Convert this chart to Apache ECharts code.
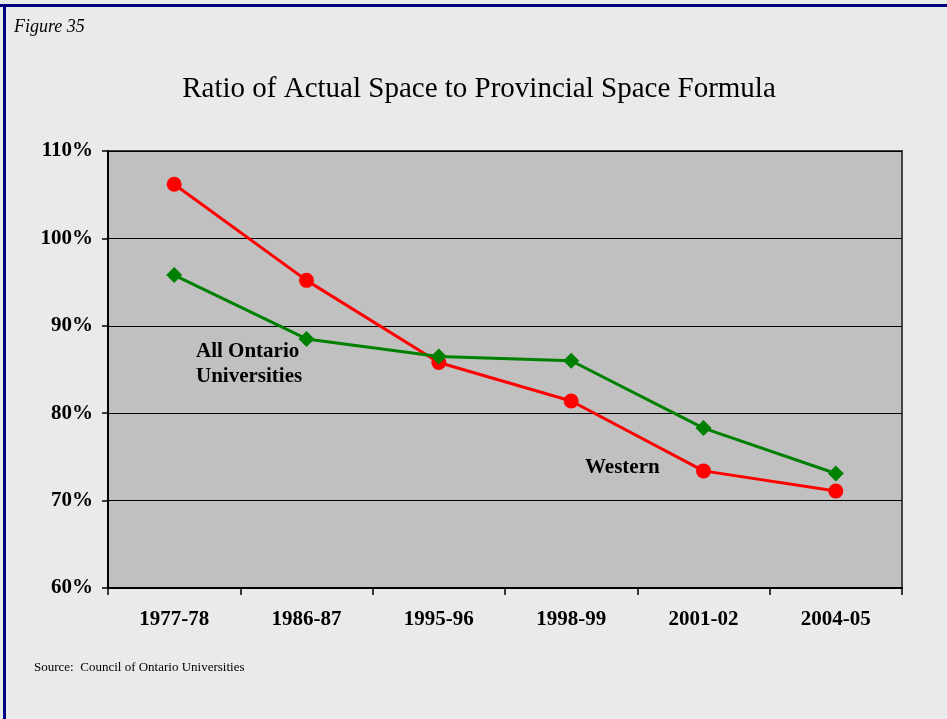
<!DOCTYPE html>
<html>
<head>
<meta charset="utf-8">
<script src="https://cdn.jsdelivr.net/npm/echarts@6/dist/echarts.min.js"></script>
<style>
  html, body { margin: 0; padding: 0; background: #eaeaea; }
  #chart { width: 947px; height: 719px; }
</style>
</head>
<body>
<div id="chart"></div>
<script>
// Academic years on the horizontal axis
const years = ['1977-78', '1986-87', '1995-96', '1998-99', '2001-02', '2004-05'];
// Ratio of actual space to formula space, in percent
const western = [106.2, 95.2, 85.8, 81.4, 73.4, 71.1];
const allOntario = [95.8, 88.5, 86.5, 86.0, 78.3, 73.1];
// Vertical axis range (percent)
const yMin = 60, yMax = 110, yStep = 10;

const serif = '"Liberation Serif", "Times New Roman", serif';

const chart = echarts.init(document.getElementById('chart'), null, { renderer: 'canvas' });

chart.setOption({
  backgroundColor: '#eaeaea',
  animation: false,
  grid: {
    left: 108, right: 45, top: 151, bottom: 131,
    show: true,
    backgroundColor: '#c0c0c0',
    borderColor: '#444444',
    borderWidth: 2
  },
  title: {
    text: 'Ratio of Actual Space to Provincial Space Formula',
    left: 474, top: 70, textAlign: 'center',
    textStyle: { fontFamily: serif, fontSize: 29, fontWeight: 'normal', color: '#000' }
  },
  xAxis: {
    type: 'category',
    data: years,
    boundaryGap: true,
    axisLine: { lineStyle: { color: '#000', width: 2 } },
    axisTick: { show: true, length: 7, lineStyle: { color: '#000', width: 1.5 } },
    axisLabel: {
      margin: 21, color: '#000',
      fontFamily: serif, fontSize: 21, fontWeight: 'bold'
    },
    splitLine: { show: false }
  },
  yAxis: {
    type: 'value',
    min: yMin, max: yMax, interval: yStep,
    axisLine: { show: true, lineStyle: { color: '#000', width: 2 } },
    axisTick: { show: true, length: 6, lineStyle: { color: '#000', width: 1.5 } },
    axisLabel: {
      formatter: '{value}%', margin: 15, color: '#000',
      fontFamily: serif, fontSize: 21, fontWeight: 'bold'
    },
    splitLine: { show: true, lineStyle: { color: '#000', width: 1.2 } }
  },
  series: [
    {
      name: 'All Ontario Universities',
      type: 'line',
      data: allOntario,
      symbol: 'diamond',
      symbolSize: 16,
      lineStyle: { color: '#008000', width: 3 },
      itemStyle: { color: '#008000' },
      z: 3
    },
    {
      name: 'Western',
      type: 'line',
      data: western,
      symbol: 'circle',
      symbolSize: 15,
      lineStyle: { color: '#ff0000', width: 3 },
      itemStyle: { color: '#ff0000' },
      z: 2
    }
  ],
  graphic: [
    // navy frame along the top and left edges
    { type: 'rect', shape: { x: 0, y: 4, width: 947, height: 3 }, style: { fill: '#000080' } },
    { type: 'rect', shape: { x: 3, y: 4, width: 3, height: 715 }, style: { fill: '#000080' } },
    {
      type: 'text', left: 14, top: 18,
      style: { text: 'Figure 35', font: 'italic 18px ' + serif, fill: '#000' }
    },
    {
      type: 'text', left: 196, top: 339,
      style: {
        text: 'All Ontario\nUniversities', font: 'bold 21px ' + serif,
        fill: '#000', lineHeight: 25
      }
    },
    {
      type: 'text', left: 585, top: 457,
      style: { text: 'Western', font: 'bold 21px ' + serif, fill: '#000' }
    },
    {
      type: 'text', left: 34, top: 661,
      style: { text: 'Source:  Council of Ontario Universities', font: '13px ' + serif, fill: '#000' }
    }
  ]
});
</script>
</body>
</html>
